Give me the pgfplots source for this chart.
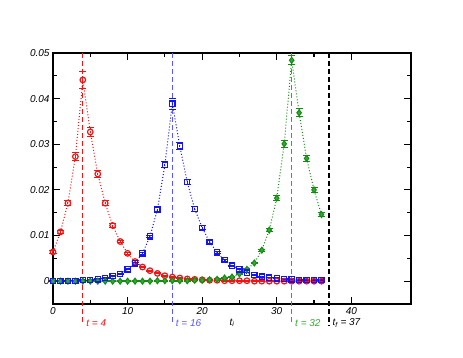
\documentclass[border=0pt]{standalone}
\usepackage{fontspec}
\setmainfont{Liberation Sans}
\usepackage{pgfplots}
\pgfplotsset{compat=1.18}
\definecolor{cred}{RGB}{240,20,20}
\definecolor{cblue}{RGB}{20,20,240}
\definecolor{cgreen}{RGB}{20,140,20}
\definecolor{lblue}{RGB}{90,90,255}
\definecolor{lgreen}{RGB}{50,170,50}

\pgfplotstableread{
t v e
0 0.0064 0.0003
1 0.0108 0.0004
2 0.0171 0.0006
3 0.0273 0.0008
4 0.0441 0.0018
5 0.0327 0.0010
6 0.0235 0.0008
7 0.0171 0.0006
8 0.0122 0.0004
9 0.0087 0.0003
10 0.0061 0.0002
11 0.0043 0.0002
12 0.0031 0.0001
13 0.0023 0.0001
14 0.0017 0.0001
15 0.0012 0.0001
16 0.0009 0.0001
17 0.0007 0.0001
18 0.0005 0.0001
19 0.0004 0.0001
20 0.0003 0.0001
21 0.0002 0.0001
22 0.0002 0.0001
23 0.0001 0.0001
24 0.0001 0.0001
25 0.0001 0.0001
26 0.0001 0.0001
27 0.0000 0.0001
28 0.0000 0.0001
29 0.0000 0.0001
30 0.0000 0.0001
31 0.0000 0.0001
32 0.0000 0.0001
33 0.0000 0.0001
34 0.0000 0.0001
35 0.0000 0.0001
36 0.0000 0.0001
}\reddata

\pgfplotstableread{
t v e
0 0.0001 0.0001
1 0.0001 0.0001
2 0.0001 0.0001
3 0.0001 0.0001
4 0.0002 0.0001
5 0.0002 0.0001
6 0.0004 0.0001
7 0.0007 0.0001
8 0.0011 0.0001
9 0.0016 0.0001
10 0.0026 0.0001
11 0.0039 0.0002
12 0.0061 0.0002
13 0.0098 0.0003
14 0.0157 0.0005
15 0.0255 0.0007
16 0.0389 0.0012
17 0.0296 0.0008
18 0.0217 0.0006
19 0.0158 0.0005
20 0.0117 0.0004
21 0.0086 0.0003
22 0.0063 0.0002
23 0.0046 0.0002
24 0.0034 0.0001
25 0.0026 0.0001
26 0.0019 0.0001
27 0.0013 0.0001
28 0.0010 0.0001
29 0.0008 0.0001
30 0.0006 0.0001
31 0.0005 0.0001
32 0.0004 0.0001
33 0.0003 0.0001
34 0.0003 0.0001
35 0.0002 0.0001
36 0.0002 0.0001
}\bluedata

\pgfplotstableread{
t v e
0 0.0000 0.0001
1 0.0000 0.0001
2 0.0000 0.0001
3 0.0000 0.0001
4 0.0000 0.0001
5 0.0000 0.0001
6 0.0000 0.0001
7 0.0000 0.0001
8 0.0000 0.0001
9 0.0000 0.0001
10 0.0000 0.0001
11 0.0000 0.0001
12 0.0000 0.0001
13 0.0000 0.0001
14 0.0001 0.0001
15 0.0001 0.0001
16 0.0001 0.0001
17 0.0001 0.0001
18 0.0001 0.0001
19 0.0002 0.0001
20 0.0002 0.0001
21 0.0003 0.0001
22 0.0004 0.0001
23 0.0007 0.0001
24 0.0009 0.0001
25 0.0016 0.0001
26 0.0026 0.0001
27 0.0040 0.0002
28 0.0068 0.0002
29 0.0112 0.0003
30 0.0182 0.0005
31 0.0301 0.0008
32 0.0484 0.0010
33 0.0369 0.0009
34 0.0269 0.0007
35 0.0200 0.0005
36 0.0146 0.0004
}\greendata

\begin{document}
\begin{tikzpicture}
\begin{axis}[
    scale only axis,
    width=358pt, height=251pt,
    xmin=0, xmax=48, ymin=-0.005, ymax=0.05,
    xtick={0,10,20,30,40}, xticklabels={0,10,20,30,40},
    ytick={0,0.01,0.02,0.03,0.04,0.05},
    yticklabels={0,0.01,0.02,0.03,0.04,0.05},
    scaled y ticks=false,
    minor x tick num=1, minor y tick num=1,
    tick align=inside,
    major tick length=7pt, minor tick length=4pt,
    axis line style={line width=1.3pt},
    every tick/.style={black, line width=1.1pt},
    tick label style={font=\fontsize{10}{12}\selectfont\itshape},
    /pgf/number format/assume math mode=true,
    clip=false,
    error bars/error bar style={line width=1pt},
    error bars/error mark options={rotate=90, mark size=3.5pt, line width=1pt},
]
\coordinate (sw) at (rel axis cs:0,0);

% reference times
\draw[cred, dash pattern=on 5pt off 3pt, line width=1.1pt] (axis cs:4,0.05) -- (axis cs:4,-0.0096);
\draw[lblue, dash pattern=on 5pt off 3pt, line width=1.6pt] (axis cs:16,0.05) -- (axis cs:16,-0.0096);
\draw[lgreen, dash pattern=on 5pt off 3pt, line width=1.6pt] (axis cs:32,0.05) -- (axis cs:32,-0.0096);
\draw[black, dash pattern=on 5pt off 3pt, line width=1.3pt] (axis cs:37,0.05) -- (axis cs:37,-0.0098);

\addplot[cred, line width=1pt, dash pattern=on 1pt off 2pt, mark=o, mark size=2.8pt,
  mark options={solid, line width=1.2pt},
  error bars/.cd, y dir=both, y explicit]
  table[x=t, y=v, y error=e] {\reddata};
\addplot[cgreen, line width=1pt, dash pattern=on 1pt off 2pt, mark=diamond*, mark size=3pt,
  mark options={solid, line width=1pt, fill=lgreen},
  error bars/.cd, y dir=both, y explicit]
  table[x=t, y=v, y error=e] {\greendata};
\addplot[cblue, line width=1pt, dash pattern=on 1pt off 2pt, mark=square, mark size=2.6pt,
  mark options={solid, line width=1.2pt},
  error bars/.cd, y dir=both, y explicit]
  table[x=t, y=v, y error=e] {\bluedata};

\tikzset{tl/.style={anchor=west, font=\fontsize{10}{12}\selectfont\itshape, inner sep=0pt}}
\node[tl, text=cred] at (axis cs:4.45,-0.0091) {t = 4};
\node[tl, text=lblue] at (axis cs:16.45,-0.0091) {t = 16};
\node[tl, text=lgreen] at (axis cs:32.45,-0.0091) {t = 32};
\node[tl, text=black] at (axis cs:37.45,-0.0091) {t\textsubscript{f} = 37};
\node[font=\fontsize{10}{12}\selectfont\itshape, inner sep=0pt] at (axis cs:24,-0.0091) {t\textsubscript{i}};
\end{axis}
\pgfresetboundingbox
\path (sw) ++(-53pt,-54pt) rectangle ++(463pt,358pt);
\end{tikzpicture}
\end{document}
